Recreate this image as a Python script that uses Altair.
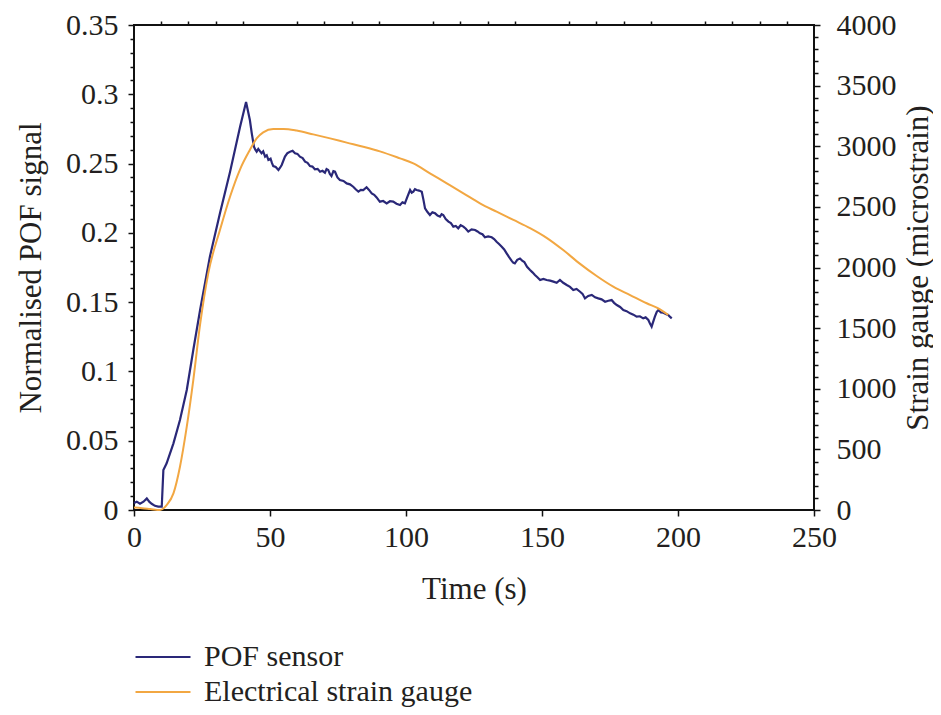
import altair as alt
import pandas as pd

# POF sensor (left axis)
pof_time = [0.0, 1.0, 2.2, 3.5, 4.7, 5.6, 6.5, 7.7, 8.9, 10.2, 10.8, 12.0, 14.5, 16.9, 19.4,
            21.8, 24.3, 27.9, 31.6, 35.3, 39.0, 41.2, 42.6, 43.3,
            44.1, 44.6, 45.1, 45.7, 46.3, 46.9, 47.5, 48.2, 48.8, 49.4, 50.2, 50.7, 51.2, 52.1,
            53.1, 53.7, 54.3, 55.5, 56.4, 57.4, 58.3, 59.2, 60.1, 61.0, 62.0, 62.9, 63.8, 64.7,
            65.6, 66.5, 67.5, 68.4, 69.3, 70.2, 70.8, 71.4, 72.0, 72.6, 73.3, 73.9, 74.8, 75.7,
            77.0, 78.2, 79.4, 80.6, 81.5, 82.5, 83.4, 84.3, 85.5, 86.4, 87.4, 88.3, 89.2, 89.8,
            90.4, 91.6, 92.9, 94.1, 95.3, 96.5, 97.8, 98.7, 99.6, 100.5, 101.5, 102.1, 102.7,
            103.3, 103.9, 104.8, 105.8, 106.4, 107.0, 107.9, 108.8, 109.7, 110.7, 111.6, 112.5,
            113.1, 113.7, 114.6, 115.6, 116.5, 117.4, 118.3, 119.2, 120.1, 121.1, 122.0, 122.9,
            124.1, 125.4, 126.3, 127.2, 128.1, 129.0, 130.2, 131.5, 132.4, 133.3, 134.2, 135.2,
            136.1, 137.0, 137.9, 138.8, 139.4, 140.0, 140.9, 141.9, 142.7, 143.5, 144.5, 145.6,
            146.5, 147.4, 148.3, 149.3, 150.5, 151.7, 153.0, 154.2, 155.4, 156.6, 157.8, 159.1,
            160.3, 161.5, 162.7, 164.0, 164.9, 165.8, 167.0, 168.3, 169.5, 170.7, 171.9, 173.2,
            174.4, 175.6, 176.5, 177.5, 178.7, 179.9, 181.1, 182.4, 183.6, 184.8, 186.0, 187.2,
            188.1, 189.1, 189.7, 190.3, 190.9, 191.5, 192.2, 192.8, 193.7, 194.6, 195.5, 196.4,
            197.0, 197.7]
pof_signal = [0.0050, 0.0060, 0.0045, 0.0060, 0.0084, 0.0060, 0.0045, 0.0030, 0.0024, 0.0024,
              0.0289, 0.0337, 0.0481, 0.0650, 0.0866, 0.1155, 0.1443, 0.1828, 0.2141, 0.2440,
              0.2766, 0.2945, 0.2814, 0.2718,
              0.2622, 0.2600, 0.2586, 0.2605, 0.2590, 0.2574, 0.2588, 0.2550, 0.2560, 0.2526,
              0.2535, 0.2505, 0.2482, 0.2475, 0.2454, 0.2470, 0.2490, 0.2550, 0.2575, 0.2586,
              0.2592, 0.2574, 0.2570, 0.2550, 0.2540, 0.2514, 0.2505, 0.2482, 0.2478, 0.2459,
              0.2462, 0.2441, 0.2448, 0.2434, 0.2460, 0.2454, 0.2425, 0.2410, 0.2445, 0.2441,
              0.2400, 0.2381, 0.2375, 0.2357, 0.2350, 0.2333, 0.2315, 0.2297, 0.2310, 0.2309,
              0.2329, 0.2310, 0.2285, 0.2275, 0.2256, 0.2240, 0.2225, 0.2230, 0.2213, 0.2228,
              0.2225, 0.2210, 0.2201, 0.2220, 0.2213, 0.2260, 0.2309, 0.2290, 0.2297, 0.2315,
              0.2309, 0.2305, 0.2297, 0.2240, 0.2177, 0.2150, 0.2129, 0.2148, 0.2141, 0.2125,
              0.2117, 0.2135, 0.2129, 0.2100, 0.2081, 0.2070, 0.2045, 0.2050, 0.2033, 0.2055,
              0.2045, 0.2030, 0.2009, 0.2025, 0.2021, 0.2010, 0.1997, 0.1990, 0.1968, 0.1975,
              0.1968, 0.1955, 0.1936, 0.1920, 0.1900, 0.1880, 0.1852, 0.1825, 0.1800, 0.1785,
              0.1780, 0.1805, 0.1815, 0.1800, 0.1790, 0.1755, 0.1732, 0.1715, 0.1696, 0.1680,
              0.1660, 0.1668, 0.1660, 0.1655, 0.1648, 0.1640, 0.1660, 0.1640, 0.1624, 0.1610,
              0.1588, 0.1595, 0.1575, 0.1560, 0.1527, 0.1545, 0.1552, 0.1535, 0.1527, 0.1520,
              0.1503, 0.1510, 0.1515, 0.1495, 0.1479, 0.1465, 0.1443, 0.1435, 0.1419, 0.1410,
              0.1395, 0.1398, 0.1383, 0.1390, 0.1371, 0.1345, 0.1323, 0.1360, 0.1395, 0.1430,
              0.1443, 0.1425, 0.1424, 0.1415, 0.1407, 0.1395, 0.1383]

# Electrical strain gauge (right axis)
sg_time = [0.0, 3.0, 6.0, 9.6, 12.0, 14.5, 16.9, 19.4, 21.8, 24.3, 27.3, 31.6, 35.3, 39.0,
           42.6, 45.1, 47.5, 51.2, 55.0, 59.8, 65.9, 72.1, 78.2, 84.3, 90.4, 97.8, 102.7,
           108.8, 115.0, 121.1, 127.2, 133.3, 139.5, 145.6, 151.7, 157.8, 164.0, 170.1, 176.2,
           182.4, 188.5, 193.4, 196.4]
sg_strain = [20, 15, 8, 0, 41, 137, 357, 687, 1072, 1530, 1952, 2309, 2584, 2810, 2969, 3065,
             3115, 3142, 3142, 3129, 3098, 3065, 3030, 2996, 2958, 2900, 2859, 2777, 2694, 2612,
             2529, 2460, 2392, 2325, 2245, 2144, 2030, 1930, 1842, 1773, 1705, 1655, 1608]

series_names = ["POF sensor", "Electrical strain gauge"]
series_colors = ["#2a2878", "#f2a742"]

x_major = [0, 50, 100, 150, 200, 250]
x_minor = [v for v in range(0, 251, 10) if v % 50 != 0]
yl_major = [0, 0.05, 0.1, 0.15, 0.2, 0.25, 0.3, 0.35]
yl_minor = [round(i * 0.01, 2) for i in range(36) if i % 5 != 0]
yr_major = [0, 500, 1000, 1500, 2000, 2500, 3000, 3500, 4000]
yr_minor = [i * 100 for i in range(41) if i % 5 != 0]

pof_df = pd.DataFrame({"t": pof_time, "v": pof_signal, "series": series_names[0]})
sg_df = pd.DataFrame({"t": sg_time, "v": sg_strain, "series": series_names[1]})

FONT = "Liberation Serif"
TXT = "#231f20"

xs = alt.Scale(domain=[0, 250], nice=False, zero=False)
yls = alt.Scale(domain=[0, 0.35], nice=False)
yrs = alt.Scale(domain=[0, 4000], nice=False)

color = alt.Color(
    "series:N",
    scale=alt.Scale(domain=series_names, range=series_colors),
    legend=alt.Legend(
        orient="none", legendX=14, legendY=617, title=None, symbolType="M-2,0H2",
        symbolSize=756, symbolStrokeWidth=2, labelFont=FONT, labelFontSize=30,
        labelColor=TXT, rowPadding=5, labelOffset=26, padding=0, labelLimit=400,
    ),
)

pof = alt.Chart(pof_df).mark_line(strokeWidth=2.2).encode(
    x=alt.X("t:Q", scale=xs, axis=alt.Axis(
        values=x_major, title="Time (s)", tickSize=6, labelPadding=6, titlePadding=22,
        format="d", labelFlush=False)),
    y=alt.Y("v:Q", scale=yls, axis=alt.Axis(
        orient="left", values=yl_major, title="Normalised POF signal", tickSize=6,
        labelPadding=10, titlePadding=18, format="~g", labelFlush=False)),
    color=color,
)

sg = alt.Chart(sg_df).mark_line(strokeWidth=2, interpolate="monotone").encode(
    x=alt.X("t:Q", scale=xs, axis=None),
    y=alt.Y("v:Q", scale=yrs, axis=alt.Axis(
        orient="right", values=yr_major, title="Strain gauge (microstrain)", tickSize=6,
        labelPadding=16, titlePadding=7, titleAngle=-90, titleBaseline="top",
        format="d", labelFlush=False)),
    color=color,
)

minor_left = alt.Chart(pof_df).mark_line(opacity=0).encode(
    x=alt.X("t:Q", scale=xs, axis=alt.Axis(values=x_minor, labels=False, title=None, tickSize=4)),
    y=alt.Y("v:Q", scale=yls, axis=alt.Axis(orient="left", values=yl_minor, labels=False,
                                            title=None, tickSize=4)),
)

minor_right = alt.Chart(sg_df).mark_line(opacity=0).encode(
    x=alt.X("t:Q", scale=xs, axis=None),
    y=alt.Y("v:Q", scale=yrs, axis=alt.Axis(orient="right", values=yr_minor, labels=False,
                                            title=None, tickSize=4)),
)

chart = alt.layer(pof, sg, minor_left, minor_right).resolve_scale(
    x="independent", y="independent"
).properties(
    width=680, height=485,
    autosize=alt.AutoSizeParams(type="none"),
    padding={"left": 126, "top": 17, "right": 119, "bottom": 197},
).configure_view(
    stroke="#111111", strokeWidth=2
).configure_axis(
    grid=False, domain=False, tickColor="#111111", tickWidth=1.5,
    labelFont=FONT, labelFontSize=30, labelColor=TXT,
    titleFont=FONT, titleFontSize=31, titleColor=TXT, titleFontWeight="normal",
)

chart.save("out.html", embed_options={"renderer": "svg", "actions": False})
